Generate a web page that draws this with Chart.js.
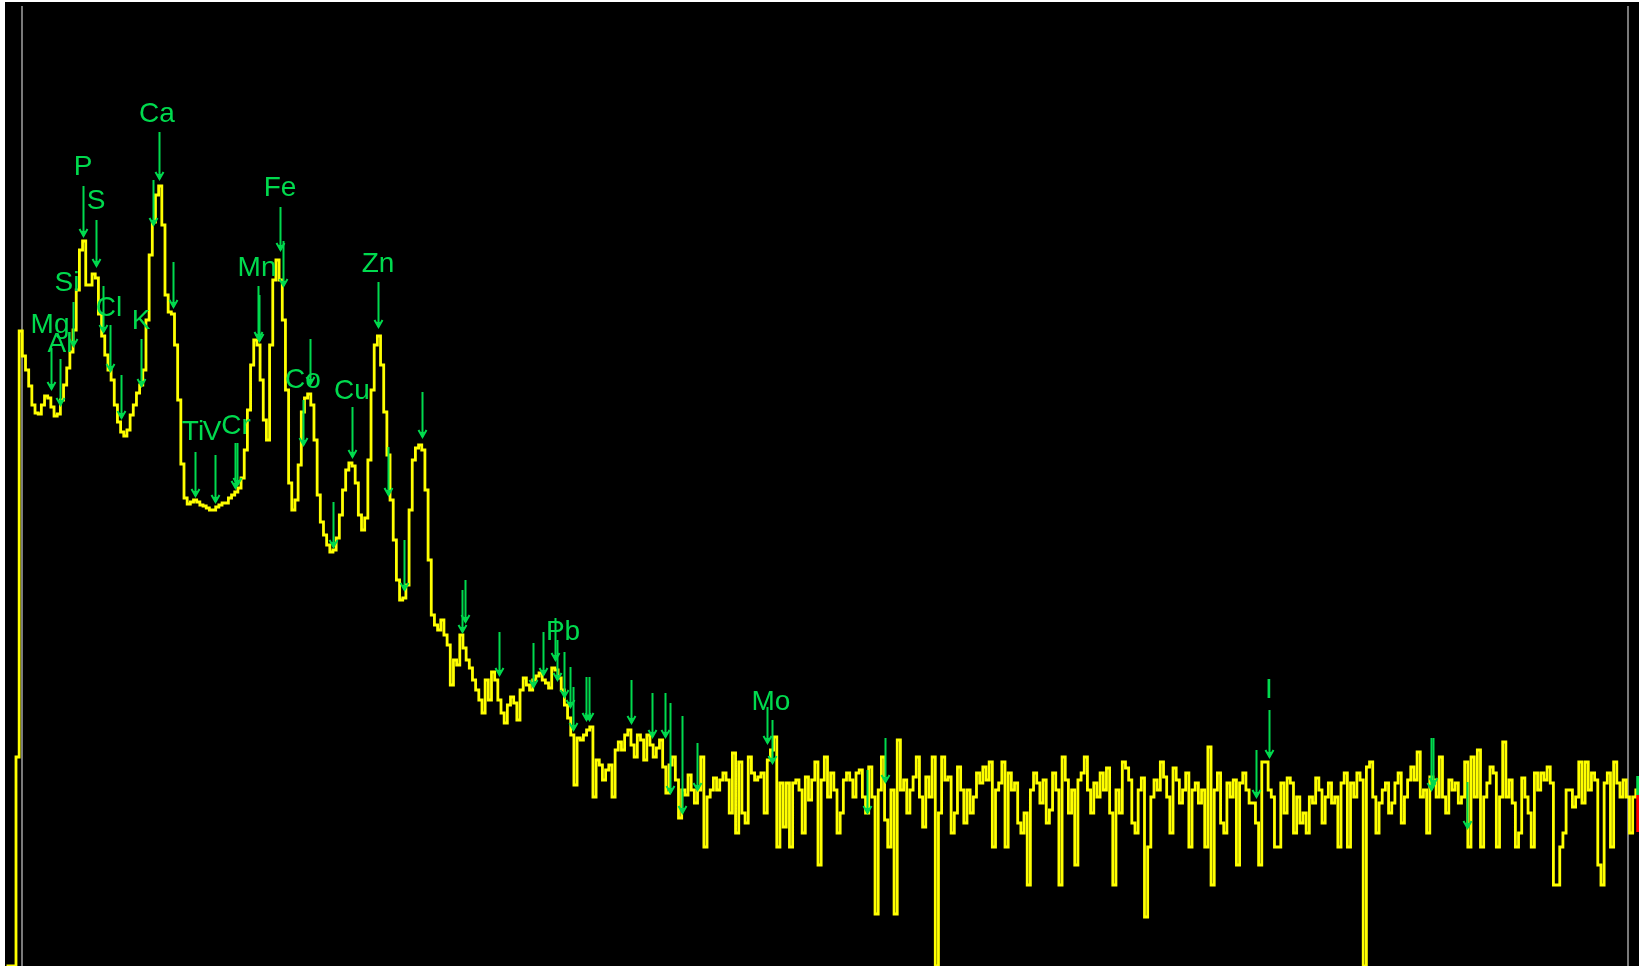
<!DOCTYPE html>
<html>
<head>
<meta charset="utf-8">
<script src="https://cdn.jsdelivr.net/npm/chart.js@4/dist/chart.umd.min.js"></script>
<style>
  html, body { margin: 0; padding: 0; background: #ffffff; overflow: hidden; }
  #frame { position: absolute; left: 5px; top: 2px; width: 1634px; height: 964px; background: #000000; }
  canvas { display: block; }
</style>
</head>
<body>
<div id="frame"><canvas id="spectrum" width="1634" height="964"></canvas></div>
<script>
// Spectrum counts per channel (arbitrary intensity units), split in blocks of channels
const countsA = [
  0, 0, 0, 209, 635, 610, 596, 580, 561, 553, 552, 561, 570,
  568, 559, 550, 552, 566, 581, 598, 614, 636, 676,
  716, 725, 681, 681, 692, 688, 652, 630, 611, 596,
  586, 561, 544, 534, 530, 536, 551, 561, 573, 581,
  596, 646, 711, 744, 771, 780, 741, 671, 654, 652,
  621, 566, 502, 468, 462, 464, 466, 464, 461, 460,
  458, 456, 456, 459, 461, 463, 463, 468, 471, 474,
  478, 488, 516, 556, 601, 626, 621, 586, 546, 526,
  621, 686, 706, 686, 646, 576, 483, 456, 466, 501,
  554, 568, 572, 561, 526, 471, 444, 431, 421, 414,
  416, 428, 451, 476, 496, 503, 500, 483, 451, 436,
  448, 506, 576, 621, 630, 601, 554, 511, 466, 426,
  386, 366, 368, 381, 456, 506, 518, 521, 516, 476
];
const countsB = [
  406, 351, 341, 336, 346, 331, 321, 281, 306, 301,
  331, 318, 306, 298, 286, 276, 266, 253, 286, 266,
  294, 286, 266, 253, 243, 261, 269, 263, 246, 276,
  288, 281, 276, 286, 290, 293, 286, 283, 278, 298,
  296, 288, 276, 261, 248, 231, 181, 228, 226, 231,
  236, 239, 169, 206, 201, 186, 196, 201, 169, 216,
  224, 216, 231, 236, 221, 209, 231, 226, 206, 231,
  221, 209, 218, 226, 199, 173, 201, 209, 186, 148,
  176, 171, 191, 176, 163, 176, 209, 119, 169, 176,
  188, 176, 186, 193, 186, 153, 213, 133, 204, 153,
  143, 209, 193, 186, 189, 193, 153, 206, 216, 229,
  119, 183, 139, 183, 119, 183, 186, 176, 133, 189,
  166, 186, 204, 101, 186, 209, 169, 193, 176, 133
];
const countsC = [
  153, 186, 193, 186, 169, 193, 196, 169, 153, 199,
  169, 52, 176, 209, 146, 119, 176, 52, 226, 176,
  186, 153, 176, 189, 209, 169, 139, 189, 169, 209,
  0, 153, 209, 186, 189, 133, 153, 199, 176, 143,
  176, 153, 169, 193, 183, 199, 186, 204, 119, 176,
  183, 204, 119, 193, 176, 183, 143, 133, 153, 81,
  176, 193, 183, 163, 186, 143, 156, 193, 176, 81,
  209, 186, 153, 176, 101, 186, 193, 209, 176, 153,
  183, 169, 193, 176, 198, 153, 81, 176, 153, 204,
  198, 186, 143, 133, 176, 188, 49, 119, 169, 186,
  176, 204, 189, 169, 133, 198, 186, 163, 176, 193,
  119, 176, 183, 163, 176, 119, 219, 81, 176, 193,
  143, 133, 183, 169, 186, 101, 183, 193, 176, 163
];
const countsD = [
  163, 143, 101, 204, 204, 176, 169, 119, 119, 183,
  153, 188, 183, 133, 169, 143, 153, 133, 169, 163,
  188, 176, 143, 169, 183, 163, 169, 119, 183, 193,
  119, 183, 169, 193, 186, 0, 199, 204, 169, 133,
  163, 176, 183, 153, 163, 183, 193, 143, 169, 186,
  199, 186, 214, 169, 176, 133, 189, 186, 169, 209,
  169, 153, 186, 176, 183, 163, 169, 204, 119, 209,
  169, 216, 119, 169, 183, 199, 193, 119, 169, 224,
  169, 186, 163, 119, 133, 188, 169, 153, 119, 193,
  176, 193, 186, 199, 183, 81, 81, 119, 133, 176,
  176, 159, 169, 204, 163, 204, 176, 193, 186, 101,
  81, 183, 193, 119, 204, 183, 169, 186, 169, 133,
  169, 176
];

// Element line markers: channel, top of the shaft, arrow tip (intensity units)
const markerChannel = [13.95, 16.88, 20.89, 24.04, 28.24, 30.35, 32.65, 36.12, 42.43, 46.31,
  48.11, 52.43, 59.47, 65.78, 72.09, 72.6, 79.25, 79.75, 86.28, 87.32,
  95.74, 93.63, 103.09, 109.09, 117.1, 120.44, 125.4, 130.98, 143.6, 144.7,
  155.46, 166.19, 169.15, 173.03, 173.57, 175.87, 177.76, 178.8, 182.72, 183.85,
  196.91, 203.73, 207.83, 209.31, 213, 217.98, 240, 241.49, 271.45, 277.13,
  394.17, 398.27, 449.37, 449.9, 460.63];
const markerTop = [618, 607, 664, 780, 746, 680, 641, 591, 627, 786,
  834, 704, 514, 511, 523, 523, 680, 671, 759, 725,
  627, 566, 464, 559, 684, 519, 426, 574, 376, 386,
  334, 323, 334, 348, 326, 314, 299, 279, 289, 289,
  286, 273, 273, 263, 250, 223, 259, 246, 196, 228,
  216, 256, 228, 228, 184];
const markerTip = [577, 561, 620, 730, 700, 634, 595, 548, 580, 741,
  787, 659, 470, 464, 478, 481, 627, 625, 716, 680,
  582, 521, 419, 509, 639, 471, 376, 529, 334, 344,
  291, 279, 291, 306, 286, 269, 259, 236, 246, 246,
  243, 229, 229, 173, 153, 176, 223, 203, 153, 184,
  169, 209, 176, 181, 138];

// Element labels: symbol, channel, height
const labelText = ["Mg", "Al", "Si", "P", "S", "Cl", "K", "Ca", "Ti", "V", "Cr", "Mn", "Fe", "Co", "Cu", "Zn", "Pb", "Mo", "I"];
const labelChannel = [13.73, 16.88, 19.09, 24.14, 28.24, 32.34, 42.43, 47.48, 58.84, 64.83, 72.4, 79.03, 86.28, 93.54, 109, 117.2, 175.56, 241.17, 398.27];
const labelValue = [642, 623, 684, 800, 766, 659, 646, 853, 535, 535, 541, 699, 779, 587, 576, 703, 335, 265, 277];

// Region bounds (grey lines) and the end-of-range cursor
const regionBounds = [4.89, 511.5];
const cursorChannel = 514.6;
const cursorGreen = [171, 190];
const cursorRed = [134, 171];

const GREEN = 'rgb(0, 218, 78)';
const counts = countsA.concat(countsB, countsC, countsD);
const points = counts.map((v, k) => ({ x: k, y: v }));
points.push({ x: counts.length, y: counts[counts.length - 1] });

const overlay = {
  id: 'overlay',
  beforeDatasetsDraw(chart) {
    const { ctx, scales: { x, y } } = chart;
    ctx.save();
    ctx.strokeStyle = '#7a7a7a';
    ctx.lineWidth = 2;
    regionBounds.forEach(ch => {
      const px = Math.round(x.getPixelForValue(ch));
      ctx.beginPath();
      ctx.moveTo(px, y.getPixelForValue(960));
      ctx.lineTo(px, y.getPixelForValue(0));
      ctx.stroke();
    });
    ctx.restore();
  },
  afterDatasetsDraw(chart) {
    const { ctx, scales: { x, y } } = chart;
    ctx.save();
    ctx.strokeStyle = GREEN;
    ctx.fillStyle = GREEN;
    ctx.lineWidth = 2;
    markerChannel.forEach((ch, i) => {
      const px = Math.round(x.getPixelForValue(ch)) + 0.5;
      const yt = y.getPixelForValue(markerTop[i]);
      const yb = y.getPixelForValue(markerTip[i]);
      ctx.beginPath();
      ctx.moveTo(px, yt);
      ctx.lineTo(px, yb);
      ctx.stroke();
      ctx.beginPath();
      ctx.moveTo(px - 4, yb - 7);
      ctx.lineTo(px, yb);
      ctx.lineTo(px + 4, yb - 7);
      ctx.stroke();
      ctx.beginPath();
      ctx.moveTo(px - 2, yb - 5);
      ctx.lineTo(px + 2, yb - 5);
      ctx.lineTo(px, yb);
      ctx.closePath();
      ctx.fill();
    });
    ctx.font = '28px "Liberation Sans", Arial, sans-serif';
    ctx.textAlign = 'center';
    ctx.textBaseline = 'middle';
    labelText.forEach((t, i) => {
      ctx.fillText(t, x.getPixelForValue(labelChannel[i]), y.getPixelForValue(labelValue[i]) + 1);
    });
    const cx = x.getPixelForValue(cursorChannel);
    ctx.lineWidth = 3;
    ctx.strokeStyle = GREEN;
    ctx.beginPath();
    ctx.moveTo(cx, y.getPixelForValue(cursorGreen[1]));
    ctx.lineTo(cx, y.getPixelForValue(cursorGreen[0]));
    ctx.stroke();
    ctx.strokeStyle = '#ff0000';
    ctx.beginPath();
    ctx.moveTo(cx, y.getPixelForValue(cursorRed[1]));
    ctx.lineTo(cx, y.getPixelForValue(cursorRed[0]));
    ctx.stroke();
    ctx.restore();
  }
};

new Chart(document.getElementById('spectrum'), {
  type: 'line',
  data: {
    datasets: [{
      data: points,
      borderColor: '#ffff00',
      borderWidth: 2.8,
      pointRadius: 0,
      stepped: 'before',
      fill: false,
      tension: 0
    }]
  },
  options: {
    responsive: false,
    maintainAspectRatio: false,
    animation: false,
    devicePixelRatio: 1,
    layout: { padding: 0 },
    scales: {
      x: { type: 'linear', min: -0.47, max: 515, display: false },
      y: { type: 'linear', min: 0, max: 964, display: false }
    },
    plugins: { legend: { display: false }, tooltip: { enabled: false } },
    events: []
  },
  plugins: [overlay]
});
</script>
</body>
</html>
